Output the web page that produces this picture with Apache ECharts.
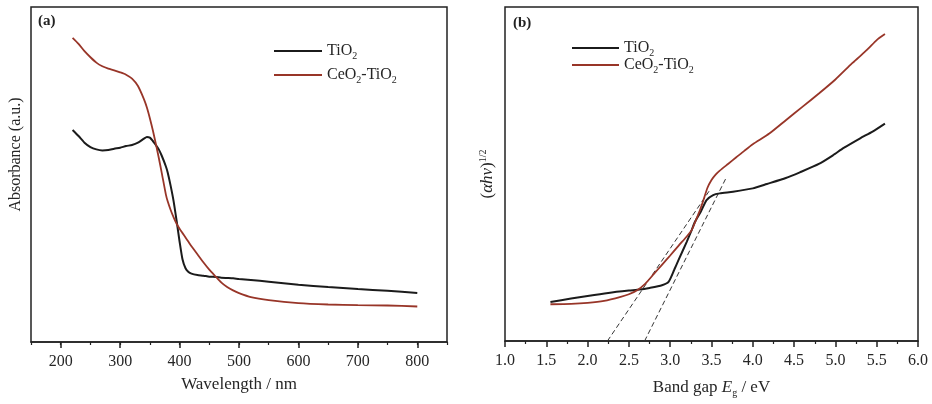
<!DOCTYPE html>
<html>
<head>
<meta charset="utf-8">
<script src="https://cdn.jsdelivr.net/npm/echarts@6/dist/echarts.min.js"></script>
<style>html,body{margin:0;padding:0;background:#fff}#c{width:932px;height:404px}</style>
</head>
<body>
<div id="c"></div>
<script>
// ---- Panel (a): UV-vis absorbance ----
const wavelength = [220,230,240,250,260,270,280,290,300,310,320,330,340,345,350,355,360,365,370,377,380,385,390,395,400,405,410,415,420,430,440,450,461,470,480,490,500,520,550,600,650,700,750,800];
const absTiO2 = [0.633,0.615,0.595,0.582,0.575,0.572,0.573,0.577,0.580,0.585,0.588,0.595,0.607,0.612,0.610,0.600,0.588,0.575,0.556,0.524,0.506,0.466,0.420,0.362,0.300,0.246,0.220,0.209,0.204,0.200,0.198,0.195,0.194,0.192,0.191,0.190,0.188,0.185,0.180,0.171,0.164,0.158,0.153,0.146];
const absCeTi = [0.908,0.890,0.868,0.850,0.834,0.823,0.816,0.811,0.805,0.798,0.786,0.764,0.725,0.700,0.668,0.632,0.592,0.550,0.505,0.440,0.420,0.394,0.372,0.353,0.338,0.325,0.312,0.299,0.286,0.262,0.238,0.216,0.195,0.178,0.164,0.154,0.146,0.134,0.125,0.116,0.112,0.110,0.109,0.106];
const wlTickLabels = [200,300,400,500,600,700,800];

// ---- Panel (b): Tauc plot ----
const egTiO2 = [1.55,1.8,2.0,2.25,2.5,2.63,2.75,2.9,2.98,3.05,3.1,3.2,3.26,3.3,3.37,3.44,3.52,3.6,3.76,4.0,4.17,4.4,4.57,4.8,4.97,5.1,5.3,5.45,5.6];
const taucTiO2 = [0.117,0.127,0.135,0.144,0.151,0.154,0.159,0.167,0.177,0.214,0.242,0.297,0.332,0.357,0.387,0.422,0.437,0.442,0.447,0.457,0.470,0.488,0.505,0.530,0.556,0.578,0.607,0.627,0.651];
const egCeTi = [1.55,1.8,2.0,2.2,2.4,2.5,2.6,2.7,2.8,2.9,3.0,3.1,3.2,3.26,3.3,3.35,3.4,3.45,3.5,3.55,3.6,3.7,3.8,3.9,4.0,4.2,4.4,4.6,4.8,5.0,5.2,5.3,5.4,5.5,5.6];
const taucCeTi = [0.110,0.111,0.114,0.120,0.132,0.140,0.152,0.172,0.200,0.228,0.256,0.285,0.313,0.332,0.355,0.385,0.420,0.458,0.482,0.498,0.510,0.530,0.550,0.570,0.589,0.621,0.661,0.701,0.741,0.783,0.831,0.853,0.876,0.901,0.919];
const tangentCeX = [2.24, 3.48], tangentCeY = [0, 0.452];
const tangentTiX = [2.69, 3.67], tangentTiY = [0, 0.485];

const seriesNames = ['TiO2', 'CeO2-TiO2'];
const BLACK = '#1b1b1b', RED = '#983528';
const FONT = 'Liberation Serif';
const TXT = '#262626';
const pairs = (xs, ys) => xs.map((x, i) => [x, ys[i]]);

const legendRich = {
  n: { fontFamily: FONT, fontSize: 16, color: TXT },
  s: { fontFamily: FONT, fontSize: 10, color: TXT, padding: [10, 0, 0, 0] }
};
const legendFmt = name => name === 'TiO2' ? '{n|TiO}{s|2}' : '{n|CeO}{s|2}{n|-TiO}{s|2}';

const chart = echarts.init(document.getElementById('c'), null, { renderer: 'canvas' });
const axisLbl = { fontFamily: FONT, fontSize: 16, color: TXT };
chart.setOption({
  animation: false,
  backgroundColor: '#fff',
  grid: [
    { left: 31, top: 7, width: 416, height: 335, show: true, borderColor: '#222', borderWidth: 1.5, backgroundColor: 'transparent' },
    { left: 505, top: 7, width: 413, height: 334, show: true, borderColor: '#222', borderWidth: 1.5, backgroundColor: 'transparent' }
  ],
  legend: [
    { orient: 'vertical', left: 269, top: 38, itemWidth: 48, itemHeight: 2, itemGap: 6, icon: 'rect',
      data: seriesNames, formatter: legendFmt, textStyle: { rich: legendRich }, selectedMode: false },
    { orient: 'vertical', left: 567, top: 35, itemWidth: 47, itemHeight: 2, itemGap: -1, icon: 'rect',
      data: seriesNames, formatter: legendFmt, textStyle: { rich: legendRich }, selectedMode: false }
  ],
  xAxis: [
    { gridIndex: 0, type: 'value', min: 150, max: 850,
      axisLine: { show: true, lineStyle: { color: '#222', width: 1.5 } },
      axisTick: { show: true, customValues: wlTickLabels, length: 6, lineStyle: { color: '#222', width: 1.5 } },
      axisLabel: { customValues: wlTickLabels, margin: 12, ...axisLbl },
      splitLine: { show: false },
      name: 'Wavelength / nm', nameLocation: 'middle', nameGap: 34,
      nameTextStyle: { fontFamily: FONT, fontSize: 17, color: TXT } },
    { gridIndex: 0, type: 'value', min: 150, max: 850, interval: 50, position: 'bottom',
      axisLine: { show: false }, axisLabel: { show: false }, splitLine: { show: false },
      axisTick: { show: true, length: 3, lineStyle: { color: '#222', width: 1.2 } } },
    { gridIndex: 1, type: 'value', min: 1, max: 6, interval: 0.5,
      axisLine: { show: true, lineStyle: { color: '#222', width: 1.5 } },
      axisTick: { show: true, length: 6, lineStyle: { color: '#222', width: 1.5 } },
      minorTick: { show: true, splitNumber: 2, length: 3, lineStyle: { color: '#222', width: 1.2 } },
      axisLabel: { margin: 12, showMinLabel: true, showMaxLabel: true, formatter: v => v.toFixed(1), ...axisLbl },
      splitLine: { show: false },
      name: '{a|Band gap }{i|E}{s|g}{a| / eV}', nameLocation: 'middle', nameGap: 37,
      nameTextStyle: { rich: {
        a: { fontFamily: FONT, fontSize: 17, color: TXT },
        i: { fontFamily: FONT, fontSize: 17, fontStyle: 'italic', color: TXT },
        s: { fontFamily: FONT, fontSize: 10, color: TXT, padding: [10, 0, 0, 0] }
      } } }
  ],
  yAxis: [
    { gridIndex: 0, type: 'value', min: 0, max: 1,
      axisLine: { show: false }, axisTick: { show: false }, axisLabel: { show: false }, splitLine: { show: false },
      name: 'Absorbance (a.u.)', nameLocation: 'middle', nameGap: 7, nameRotate: 90,
      nameTextStyle: { fontFamily: FONT, fontSize: 16, color: TXT, padding: [0, 0, 0, 40] } },
    { gridIndex: 1, type: 'value', min: 0, max: 1,
      axisLine: { show: false }, axisTick: { show: false }, axisLabel: { show: false }, splitLine: { show: false },
      name: '{a|(}{i|αhν}{a|)}{p|1/2}', nameLocation: 'middle', nameGap: 8, nameRotate: 90,
      nameTextStyle: { padding: [0, 0, 0, 0], rich: {
        a: { fontFamily: FONT, fontSize: 17, color: TXT },
        i: { fontFamily: FONT, fontSize: 17, fontStyle: 'italic', color: TXT },
        p: { fontFamily: FONT, fontSize: 10, color: TXT, padding: [0, 0, 9, 0] }
      } } }
  ],
  graphic: [
    { type: 'text', left: 38, top: 14, style: { text: '(a)', font: 'bold 15px "Liberation Serif"', fill: '#222' } },
    { type: 'text', left: 513, top: 16, style: { text: '(b)', font: 'bold 15px "Liberation Serif"', fill: '#222' } }
  ],
  series: [
    { name: seriesNames[0], type: 'line', xAxisIndex: 0, yAxisIndex: 0, data: pairs(wavelength, absTiO2),
      symbol: 'none', smooth: 0.2, color: BLACK, lineStyle: { color: BLACK, width: 2 } },
    { name: seriesNames[1], type: 'line', xAxisIndex: 0, yAxisIndex: 0, data: pairs(wavelength, absCeTi),
      symbol: 'none', smooth: 0.2, color: RED, lineStyle: { color: RED, width: 1.8 } },
    { name: seriesNames[0], type: 'line', xAxisIndex: 2, yAxisIndex: 1, data: pairs(egTiO2, taucTiO2),
      symbol: 'none', smooth: 0.2, color: BLACK, lineStyle: { color: BLACK, width: 2 } },
    { name: seriesNames[1], type: 'line', xAxisIndex: 2, yAxisIndex: 1, data: pairs(egCeTi, taucCeTi),
      symbol: 'none', smooth: 0.2, color: RED, lineStyle: { color: RED, width: 1.8 } },
    { name: 'tangentCe', type: 'line', xAxisIndex: 2, yAxisIndex: 1, data: pairs(tangentCeX, tangentCeY),
      symbol: 'none', color: '#333', lineStyle: { color: '#333', width: 1, type: [5, 3] }, z: 1 },
    { name: 'tangentTi', type: 'line', xAxisIndex: 2, yAxisIndex: 1, data: pairs(tangentTiX, tangentTiY),
      symbol: 'none', color: '#333', lineStyle: { color: '#333', width: 1, type: [5, 3] }, z: 1 }
  ]
});
</script>
</body>
</html>
